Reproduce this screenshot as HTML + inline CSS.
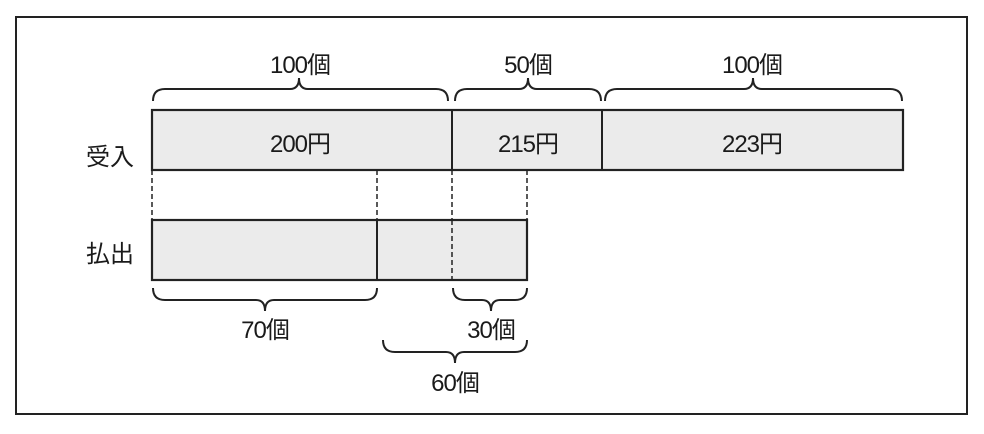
<!DOCTYPE html>
<html><head><meta charset="utf-8"><style>
html,body{margin:0;padding:0;background:#fff;}
svg{display:block;}
text{font-family:"Liberation Sans","Noto Sans CJK JP",sans-serif;fill:#1a1a1a;}
</style></head><body>
<svg width="984" height="434" viewBox="0 0 984 434" xmlns="http://www.w3.org/2000/svg">
<rect x="16" y="17" width="951" height="397" fill="#fff" stroke="#222" stroke-width="2"/>
<rect x="152" y="110" width="751" height="60" fill="#ebebeb" stroke="#222" stroke-width="2.2"/>
<line x1="452" y1="110" x2="452" y2="170" stroke="#222" stroke-width="2"/>
<line x1="602" y1="110" x2="602" y2="170" stroke="#222" stroke-width="2"/>
<rect x="152" y="220" width="375" height="60" fill="#ebebeb" stroke="#222" stroke-width="2.2"/>
<line x1="377" y1="220" x2="377" y2="280" stroke="#222" stroke-width="2"/>
<line x1="452" y1="220" x2="452" y2="280" stroke="#222" stroke-width="1.5" stroke-dasharray="5,3"/>
<g stroke="#222" stroke-width="1.5" stroke-dasharray="5,3">
<line x1="152" y1="170" x2="152" y2="220"/>
<line x1="377" y1="170" x2="377" y2="220"/>
<line x1="452" y1="170" x2="452" y2="220"/>
<line x1="527" y1="170" x2="527" y2="220"/>
</g>
<g fill="none" stroke="#222" stroke-width="2">
<path d="M153,101 q0,-12 12,-12 H290 q9,0 9,-11 q0,11 9,11 H436 q12,0 12,12"/>
<path d="M455,101 q0,-12 12,-12 H519 q9,0 9,-11 q0,11 9,11 H589 q12,0 12,12"/>
<path d="M605,101 q0,-12 12,-12 H744 q9,0 9,-11 q0,11 9,11 H890 q12,0 12,12"/>
<path d="M153,288 q0,12 12,12 H256 q9,0 9,11 q0,-11 9,-11 H365 q12,0 12,-12"/>
<path d="M453,288 q0,12 12,12 H482 q9,0 9,11 q0,-11 9,-11 H515 q12,0 12,-12"/>
<path d="M383,340 q0,12 12,12 H446 q9,0 9,11 q0,-11 9,-11 H515 q12,0 12,-12"/>
</g>
<g font-size="24" text-anchor="middle" letter-spacing="-1">
<text x="300" y="73">100個</text>
<text x="528" y="73">50個</text>
<text x="752" y="73">100個</text>
<text x="300" y="152">200円</text>
<text x="528" y="152">215円</text>
<text x="752" y="152">223円</text>
<text x="265" y="338">70個</text>
<text x="491" y="338">30個</text>
<text x="455" y="391">60個</text>
</g>
<g font-size="24" text-anchor="middle">
<text x="110" y="165">受入</text>
<text x="110" y="262">払出</text>
</g>
</svg>
</body></html>
